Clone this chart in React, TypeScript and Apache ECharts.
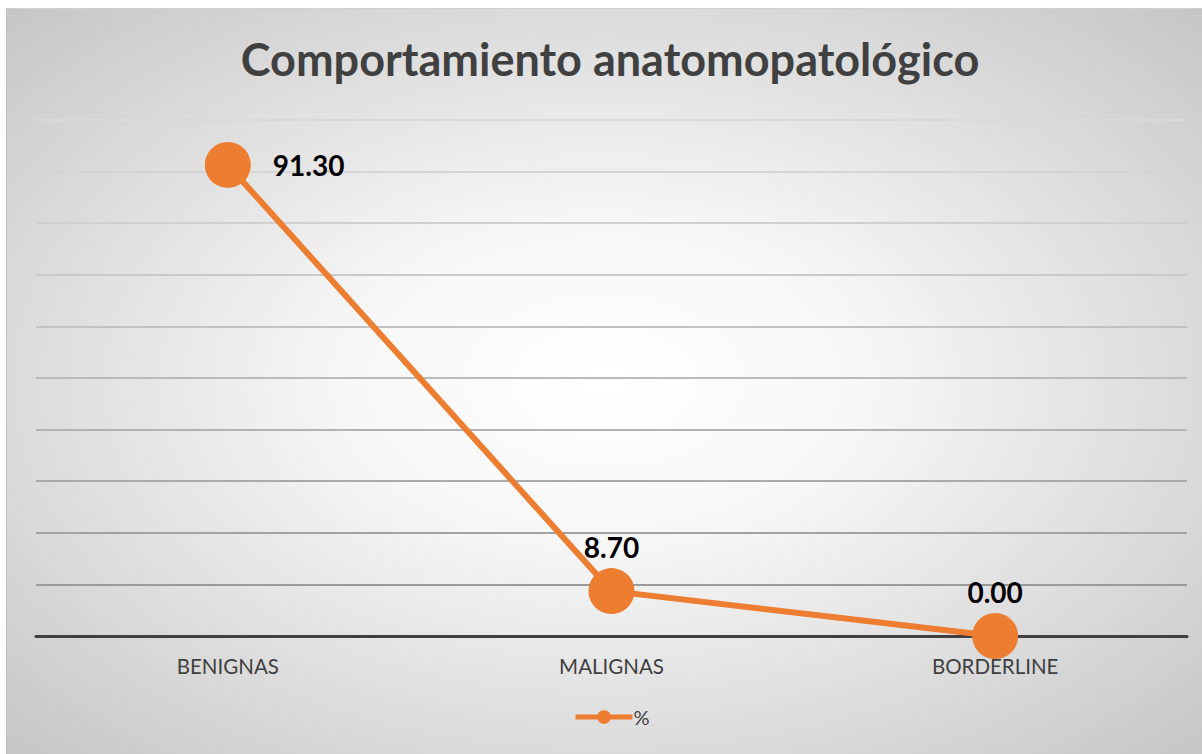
import React, { useEffect, useRef } from "react";
import * as echarts from "echarts";

const categories = ["BENIGNAS", "MALIGNAS", "BORDERLINE"];
const seriesName = "%";
const values = [91.3, 8.7, 0.0];
const labelPositions = ["right", "top", "top"];
const chartTitle = "Comportamiento anatomopatológico";

const gridColors = [
  "#9a9a9a", "#9a9a9a", "#a2a2a2", "#aaaaaa", "#b2b2b2", "#bababa",
  "#c2c2c2", "#c9c9c9", "#cfcfcf", "#d4d4d4", "#d9d9d9",
];

export default function App() {
  const ref = useRef<HTMLDivElement>(null);
  useEffect(() => {
    if (!ref.current) return;
    const chart = echarts.init(ref.current, undefined, { renderer: "svg" });
    const font = "Lato, 'Noto Sans', sans-serif";
    chart.setOption({
      animation: false,
      backgroundColor: "transparent",
      title: {
        text: chartTitle,
        left: 598,
        textAlign: "center",
        top: 22,
        textStyle: { fontFamily: font, fontSize: 45, fontWeight: "bold", color: "#404040" },
      },
      legend: {
        data: [seriesName],
        bottom: 22,
        left: 561,
        itemWidth: 57,
        itemHeight: 17,
        itemGap: 4,
        lineStyle: { width: 5 },
        textStyle: { fontFamily: font, fontSize: 20, color: "#404040", padding: [0, 0, 0, -4] },
      },
      grid: { left: 29, right: 15, top: 111, bottom: 118, containLabel: false },
      xAxis: {
        type: "category",
        data: categories,
        boundaryGap: true,
        axisLine: { lineStyle: { color: "#404040", width: 3 } },
        axisTick: { show: false },
        axisLabel: { fontFamily: font, fontSize: 20.5, color: "#404040", margin: 19 },
      },
      yAxis: {
        type: "value",
        min: 0,
        max: 100,
        interval: 10,
        axisLabel: { show: false },
        axisLine: { show: false },
        axisTick: { show: false },
        splitLine: { lineStyle: { color: gridColors, width: 2 } },
      },
      series: [
        {
          name: seriesName,
          type: "line",
          data: values.map((v, i) => ({
            value: v,
            label: { position: labelPositions[i], distance: labelPositions[i] === "right" ? 22 : 7 },
          })),
          symbol: "circle",
          symbolSize: 46,
          lineStyle: { color: "#ED7D31", width: 6 },
          itemStyle: { color: "#ED7D31" },
          label: {
            show: true,
            formatter: (p: any) => Number(p.value).toFixed(2),
            fontFamily: font,
            fontSize: 28,
            fontWeight: "bold",
            color: "#000000",
          },
        },
      ],
    });
    return () => chart.dispose();
  }, []);
  return (
    <div
      style={{
        position: "absolute",
        left: 6,
        top: 8,
        width: 1196,
        height: 746,
        background:
          "radial-gradient(ellipse farthest-corner at 50% 50%, #ffffff 0%, #f7f7f7 30%, #c6c6c6 100%)",
        borderLeft: "1px solid #c0c0c0",
        borderTop: "1px solid #d0d0d0",
        boxSizing: "border-box",
      }}
    >
      <div ref={ref} style={{ width: "100%", height: "100%" }} />
    </div>
  );
}
